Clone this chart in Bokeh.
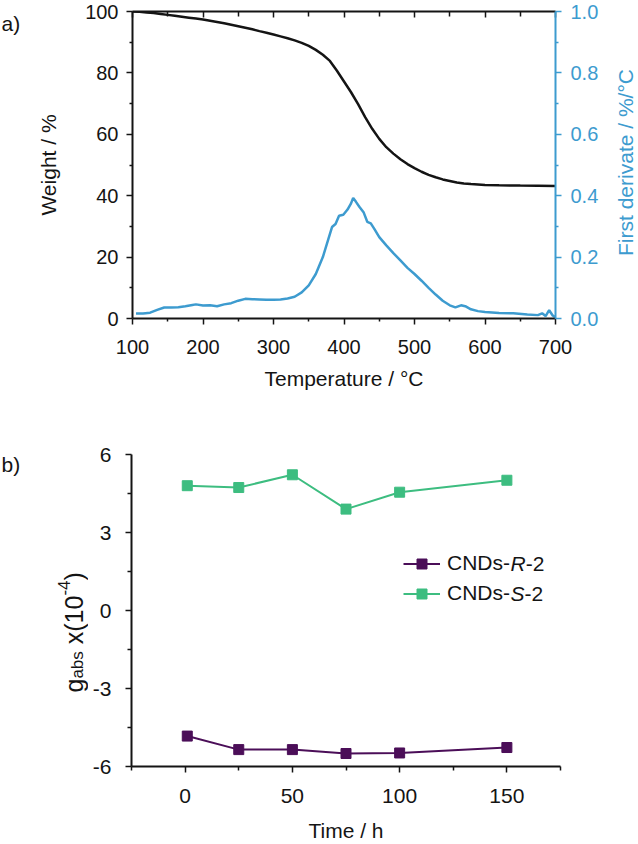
import math
from bokeh.plotting import figure
from bokeh.models import (Range1d, LinearAxis, FixedTicker, Label, Legend, LegendItem,
                          CustomJSTickFormatter, NumeralTickFormatter)
from bokeh.layouts import column, row
from bokeh.embed import file_html
from bokeh.resources import INLINE

FONT = "Liberation Sans"
INK = "#141414"
BLUE = "#3d9bcf"
GREEN = "#3dbd80"
PURPLE = "#4b0e58"

# ---------------- panel a) data ----------------
tga_temp = [100, 110, 120, 130, 140, 150, 160, 170, 180, 190, 200, 210, 220, 230, 240,
            250, 260, 270, 280, 290, 300, 310, 320, 330, 340, 350, 360, 370, 380, 390,
            400, 410, 420, 430, 440, 450, 460, 470, 480, 490, 500, 510, 520, 530, 540,
            550, 560, 570, 580, 600, 620, 650, 700]
tga_weight = [100.0, 99.9, 99.7, 99.5, 99.2, 98.9, 98.6, 98.3, 98.0, 97.7, 97.4, 97.0, 96.6,
              96.2, 95.7, 95.2, 94.7, 94.2, 93.6, 93.1, 92.5, 91.9, 91.3, 90.6, 89.8, 88.8,
              87.5, 85.9, 83.9, 80.7, 77.2, 73.7, 69.8, 65.6, 61.8, 58.5, 55.8, 53.7, 51.9,
              50.3, 49.0, 47.8, 46.8, 46.0, 45.3, 44.8, 44.3, 44.0, 43.8, 43.5, 43.4, 43.3,
              43.2]

dtg_temp = [105, 115, 125, 135, 145, 155, 165, 175, 185, 190, 200, 210, 220, 230, 240, 250,
            260, 270, 280, 290, 300, 310, 320, 330, 340, 350, 360, 370, 378, 383, 388, 393,
            399, 405, 410, 413, 417, 422, 428, 433, 438, 443, 450, 460, 470, 480, 490, 500,
            510, 520, 530, 540, 550, 558, 566, 572, 580, 590, 600, 620, 640, 660, 675, 681,
            686, 691, 696, 700]
dtg_value = [0.016, 0.016, 0.019, 0.028, 0.036, 0.036, 0.037, 0.040, 0.044, 0.046, 0.042,
             0.043, 0.040, 0.046, 0.050, 0.058, 0.064, 0.063, 0.062, 0.061, 0.061, 0.062,
             0.065, 0.071, 0.085, 0.108, 0.145, 0.200, 0.260, 0.298, 0.308, 0.335, 0.338,
             0.355, 0.375, 0.393, 0.380, 0.363, 0.345, 0.315, 0.310, 0.292, 0.265, 0.238,
             0.213, 0.189, 0.165, 0.145, 0.123, 0.100, 0.078, 0.058, 0.043, 0.036, 0.043,
             0.040, 0.030, 0.024, 0.021, 0.018, 0.017, 0.013, 0.011, 0.017, 0.008, 0.027,
             0.010, 0.004]

temp_ticks = [100, 200, 300, 400, 500, 600, 700]
temp_minor = [150, 250, 350, 450, 550, 650]
weight_ticks = [0, 20, 40, 60, 80, 100]
weight_minor = [10, 30, 50, 70, 90]
dtg_ticks = [0.0, 0.2, 0.4, 0.6, 0.8, 1.0]
dtg_minor = [0.1, 0.3, 0.5, 0.7, 0.9]

# ---------------- panel b) data ----------------
time_h = [1, 25, 50, 75, 100, 150]
g_r = [-4.83, -5.35, -5.35, -5.50, -5.48, -5.27]
g_s = [4.80, 4.73, 5.22, 3.90, 4.55, 5.01]
series_names = ["CNDs-", "CNDs-"]
series_italic = ["R", "S"]
series_suffix = ["-2", "-2"]
time_ticks = [0, 50, 100, 150]
time_minor = [-25, 25, 75, 125, 175]
g_ticks = [-6, -3, 0, 3, 6]
g_tick_labels = ["-6", "-3", "0", "3", "6"]
g_minor = [-4.5, -1.5, 1.5, 4.5]


def style_axis(ax, color=INK, tick_size="20px", major_out=6, minor_out=3, standoff=8):
    ax.axis_line_color = color
    ax.axis_line_width = 2
    ax.major_tick_line_color = color
    ax.minor_tick_line_color = color
    ax.major_tick_line_width = 1.5
    ax.minor_tick_line_width = 1.5
    ax.major_tick_out = major_out
    ax.major_tick_in = 0
    ax.minor_tick_out = minor_out
    ax.minor_tick_in = 0
    ax.major_label_text_font = FONT
    ax.major_label_text_font_size = tick_size
    ax.major_label_text_color = color
    ax.major_label_standoff = standoff
    ax.axis_label_text_font = FONT
    ax.axis_label_text_font_size = "21px"
    ax.axis_label_text_font_style = "normal"
    ax.axis_label_text_color = color


def helper(w, h, top, bottom):
    # frame aligned with the neighbouring plot; data y = pixels from the row's bottom
    f = figure(width=w, height=h, x_range=Range1d(0, w), y_range=Range1d(bottom, h - top),
               output_backend="svg", toolbar_location=None,
               x_axis_location=None, y_axis_location=None,
               min_border_left=0, min_border_right=0,
               min_border_top=top, min_border_bottom=bottom)
    f.grid.visible = False
    f.outline_line_color = None
    f.background_fill_color = "white"
    f.border_fill_color = "white"
    return f


# ================= panel a =================
ROW1_H = 396
TOP1, BOT1 = 11, 78
p1 = figure(width=581, height=ROW1_H, x_range=Range1d(100, 700), y_range=Range1d(0, 100),
            output_backend="svg", toolbar_location=None,
            x_axis_location=None, y_axis_location=None,
            min_border_left=112, min_border_right=44, min_border_top=TOP1,
            min_border_bottom=BOT1)
p1.grid.visible = False
p1.outline_line_color = None
p1.background_fill_color = "white"
p1.border_fill_color = "white"
p1.extra_y_ranges = {"dtg": Range1d(0, 1.0)}

xa = LinearAxis(ticker=FixedTicker(ticks=temp_ticks, minor_ticks=temp_minor),
                axis_label="Temperature / °C")
style_axis(xa, standoff=15)
xa.axis_label_standoff = 10
p1.add_layout(xa, "below")

xt = LinearAxis(ticker=FixedTicker(ticks=temp_ticks, minor_ticks=temp_minor),
                formatter=CustomJSTickFormatter(code="return ''"))
style_axis(xt, major_out=0, minor_out=0, standoff=0)
xt.major_tick_in = 6
xt.minor_tick_in = 5
p1.add_layout(xt, "above")

ya = LinearAxis(ticker=FixedTicker(ticks=weight_ticks, minor_ticks=weight_minor),
                axis_label="Weight / %")
style_axis(ya, standoff=8)
ya.axis_label_standoff = 22
p1.add_layout(ya, "left")

yr = LinearAxis(y_range_name="dtg",
                ticker=FixedTicker(ticks=dtg_ticks, minor_ticks=dtg_minor),
                formatter=NumeralTickFormatter(format="0.0"))
style_axis(yr, color=BLUE, standoff=9)
p1.add_layout(yr, "right")

p1.line(tga_temp, tga_weight, line_color=INK, line_width=2.5)
p1.line(dtg_temp, dtg_value, line_color=BLUE, line_width=2.5, y_range_name="dtg")

ha = helper(20, ROW1_H, TOP1, BOT1)
ha.add_layout(Label(x=1, y=ROW1_H - 23, text="a)", text_font=FONT, text_font_size="21px",
                    text_color=INK, text_align="left", text_baseline="alphabetic"))

hra = helper(35, ROW1_H, TOP1, BOT1)
hra.add_layout(Label(x=24, y=ROW1_H - 162, text="First derivate / %/°C", angle=math.pi / 2,
                     text_font=FONT, text_font_size="21px", text_color=BLUE,
                     text_align="center", text_baseline="middle"))

# ================= panel b =================
ROW2_H = 448
ROW2_TOP = ROW1_H
TOP2, BOT2 = 58, 78
p2 = figure(width=548, height=ROW2_H, x_range=Range1d(-25, 175), y_range=Range1d(-6, 6),
            output_backend="svg", toolbar_location=None,
            x_axis_location=None, y_axis_location=None,
            min_border_left=43, min_border_right=76, min_border_top=TOP2,
            min_border_bottom=BOT2)
p2.grid.visible = False
p2.outline_line_color = None
p2.background_fill_color = "white"
p2.border_fill_color = "white"

xb = LinearAxis(ticker=FixedTicker(ticks=time_ticks, minor_ticks=time_minor),
                axis_label="Time / h")
style_axis(xb, tick_size="21px", minor_out=4, standoff=16)
xb.axis_label_standoff = 13
p2.add_layout(xb, "below")

yb = LinearAxis(ticker=FixedTicker(ticks=g_ticks, minor_ticks=g_minor),
                major_label_overrides=dict(zip(g_ticks, g_tick_labels)))
style_axis(yb, tick_size="21px", minor_out=4, standoff=14)
p2.add_layout(yb, "left")

lr = p2.line(time_h, g_r, line_color=PURPLE, line_width=2)
sr = p2.scatter(time_h, g_r, marker="square", size=10, fill_color=PURPLE, line_color=PURPLE)
lg = p2.line(time_h, g_s, line_color=GREEN, line_width=2)
sg = p2.scatter(time_h, g_s, marker="square", size=10, fill_color=GREEN, line_color=GREEN)

legend = Legend(items=[LegendItem(label=series_names[0], renderers=[lr, sr]),
                       LegendItem(label=series_names[1], renderers=[lg, sg])],
                location=(272, 160.5), padding=0, spacing=5,
                glyph_width=37, glyph_height=25, label_height=25, label_standoff=7,
                label_text_font=FONT, label_text_font_size="21px", label_text_color=INK,
                border_line_color=None, background_fill_alpha=0)
p2.add_layout(legend, "center")

# italic stereo-descriptors following the legend text
w_cnds = (722 + 722 + 722 + 500 + 333) / 1000 * 21
w_ital = {"R": 0.722 * 21, "S": 0.667 * 21}
text_x0 = 272 + 37 + 7
row_y = [203.0, 173.0]
for i in range(2):
    xi = text_x0 + w_cnds
    p2.add_layout(Label(x=xi, y=row_y[i], x_units="screen", y_units="screen",
                        text=series_italic[i], text_font=FONT, text_font_size="21px",
                        text_font_style="italic", text_color=INK,
                        text_align="left", text_baseline="middle"))
    p2.add_layout(Label(x=xi + w_ital[series_italic[i]], y=row_y[i], x_units="screen",
                        y_units="screen", text=series_suffix[i], text_font=FONT,
                        text_font_size="21px", text_color=INK,
                        text_align="left", text_baseline="middle"))

hb = helper(88, ROW2_H, TOP2, BOT2)
# data y in hb = (ROW2_TOP + ROW2_H) - page_y
hb.add_layout(Label(x=1, y=ROW2_TOP + ROW2_H - 464, text="b)", text_font=FONT,
                    text_font_size="21px", text_color=INK,
                    text_align="left", text_baseline="alphabetic"))

# y-axis title g_abs x(10^-4), rotated, built from pieces
# (text, font px, baseline shift, gap before in em, advance in em)
pieces = [("g", 25, 0, 0.0, 0.556), ("abs", 17, 4, 0.0, 1.612),
          ("x(10", 25, 0, 0.278, 1.945), ("-4", 17, -10, 0.0, 0.889),
          (")", 25, 0, 0.0, 0.333)]
ypos = ROW2_TOP + ROW2_H - 692.0
for txt, fs, dx, gap, adv in pieces:
    ypos += gap * 25
    hb.add_layout(Label(x=73 + dx, y=ypos, text=txt, angle=math.pi / 2,
                        text_font=FONT, text_font_size=f"{fs}px",
                        text_color=INK, text_align="left", text_baseline="alphabetic"))
    ypos += adv * fs

layout = column(row(ha, p1, hra, spacing=0), row(hb, p2, spacing=0), spacing=0)
open("out.html", "w").write(file_html(layout, INLINE))
